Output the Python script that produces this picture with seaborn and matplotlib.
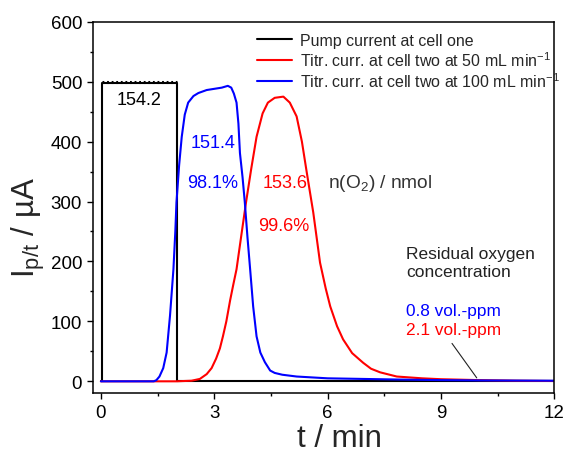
import numpy as np
import pandas as pd
import matplotlib
matplotlib.use("Agg")
import matplotlib.pyplot as plt
import seaborn as sns

# ---------------- data ----------------
pump_t = [0.0, 0.02, 0.02, 2.02, 2.02, 12.0]
pump_i = [0.0, 0.0, 497.0, 497.0, 0.0, 0.0]

red_t = [0.0, 2.0, 2.4, 2.62, 2.8, 2.93, 3.05, 3.15, 3.23, 3.32, 3.42, 3.5, 3.59,
         3.72, 3.84, 3.98, 4.12, 4.28, 4.42, 4.6, 4.83, 5.0, 5.18, 5.32, 5.45,
         5.62, 5.8, 5.95, 6.07, 6.25, 6.41, 6.65, 6.94, 7.15, 7.39, 7.83, 8.5,
         9.0, 10.0, 11.0, 12.0]
red_i = [0, 0, 1, 4, 12, 22, 38, 55, 75, 100, 135, 160, 187,
         245, 298, 355, 408, 447, 465, 473, 475, 465, 442, 400, 348,
         282, 198, 155, 125, 92, 70, 47, 31, 21, 15, 8, 5,
         3.5, 2, 1, 0.5]

blue_t = [0.0, 1.40, 1.47, 1.55, 1.65, 1.74, 1.83, 1.92, 1.97, 2.00, 2.07, 2.14,
          2.22, 2.31, 2.45, 2.58, 2.8, 3.0, 3.2, 3.36, 3.45, 3.52, 3.59, 3.64,
          3.68, 3.75, 3.81, 3.88, 3.95, 4.03, 4.12, 4.22, 4.34, 4.48, 4.6, 4.8,
          5.18, 6.0, 7.83, 9.0, 10.0, 12.0]
blue_i = [0, 0, 2, 8, 22, 48, 110, 187, 250, 298, 360, 408,
          445, 465, 476, 481, 486, 488, 490, 493, 490, 480, 465, 430,
          381, 340, 298, 240, 187, 125, 75, 48, 32, 18, 14, 11,
          8, 5, 3, 2, 1.5, 1]

series_labels = ["Pump current at cell one",
                 "Titr. curr. at cell two at 50 mL min$^{-1}$",
                 "Titr. curr. at cell two at 100 mL min$^{-1}$"]
series_colors = ["#000000", "#ff0000", "#0000ff"]

x_ticks = [0, 3, 6, 9, 12]
y_ticks = [0, 100, 200, 300, 400, 500, 600]

# ---------------- style ----------------
sns.set_style("ticks")
plt.rcParams["font.family"] = ["Liberation Sans", "DejaVu Sans"]
plt.rcParams["mathtext.fontset"] = "custom"
plt.rcParams["mathtext.rm"] = "Liberation Sans"
plt.rcParams["mathtext.it"] = "Liberation Sans"
plt.rcParams["mathtext.bf"] = "Liberation Sans:bold"

fig = plt.figure(figsize=(5.67, 4.56), dpi=100)
ax = fig.add_axes([0.1646, 0.1353, 0.9776 - 0.1646, 0.9502 - 0.1353])

df_pump = pd.DataFrame({"t": pump_t, "I": pump_i})
df_red = pd.DataFrame({"t": red_t, "I": red_i})
df_blue = pd.DataFrame({"t": blue_t, "I": blue_i})

for df, lab, col in zip([df_pump, df_red, df_blue], series_labels, series_colors):
    sns.lineplot(data=df, x="t", y="I", ax=ax, color=col, lw=1.5,
                 label=lab, sort=False, estimator=None)

# dotted top of the pump pulse
top = df_pump[df_pump["I"] > 0]
ax.plot(top["t"], top["I"] + 3, color="black", lw=2.2, ls=(0, (0.6, 0.9)))

ax.set_xlim(-0.2, 12)
ax.set_ylim(-20, 600)
ax.set_xticks(x_ticks)
ax.set_yticks(y_ticks)
ax.set_xticks([1.5, 4.5, 7.5, 10.5], minor=True)
ax.set_yticks([50, 150, 250, 350, 450, 550], minor=True)
ax.tick_params(which="major", length=4.5, width=1, labelsize=13.5, color="black",
               labelcolor="black", direction="out", pad=3.5)
ax.tick_params(which="minor", length=2.5, width=1, color="black", direction="out")
for sp in ax.spines.values():
    sp.set_linewidth(1.1)
    sp.set_color("black")

ax.set_xlabel("t / min", fontsize=22.5, labelpad=1, x=0.533)
ax.set_ylabel("I$_{\\mathrm{p/t}}$ / µA", fontsize=22.5, labelpad=3, y=0.45)

# annotations
ax.text(1.0, 470, "154.2", color="black", fontsize=13, ha="center", va="center")
ax.text(2.97, 398, "151.4", color="#0000ff", fontsize=13, ha="center", va="center")
ax.text(2.97, 332, "98.1%", color="#0000ff", fontsize=13, ha="center", va="center")
ax.text(4.87, 332, "153.6", color="#ff0000", fontsize=13, ha="center", va="center")
ax.text(4.85, 260, "99.6%", color="#ff0000", fontsize=13, ha="center", va="center")
ax.text(6.0, 332, "n(O$_2$) / nmol", color="#333333", fontsize=13.8, ha="left", va="center")
ax.text(8.08, 198, "Residual oxygen\nconcentration", color="#222222", fontsize=12.5,
        ha="left", va="center", linespacing=1.2)
ax.text(8.08, 118, "0.8 vol.-ppm", color="#0000ff", fontsize=12.4, ha="left", va="center")
ax.text(8.08, 87, "2.1 vol.-ppm", color="#ff0000", fontsize=12.4, ha="left", va="center")
ax.annotate("", xy=(9.99, 2), xytext=(9.25, 67),
            arrowprops=dict(arrowstyle="-", lw=0.8, color="#222222"))

leg = ax.legend(loc="upper left", bbox_to_anchor=(0.355, 0.970), frameon=False,
                fontsize=11.5, handlelength=2.2, handletextpad=0.5,
                labelspacing=0.15, borderpad=0, borderaxespad=0)

fig.savefig("out.png", dpi=100)
